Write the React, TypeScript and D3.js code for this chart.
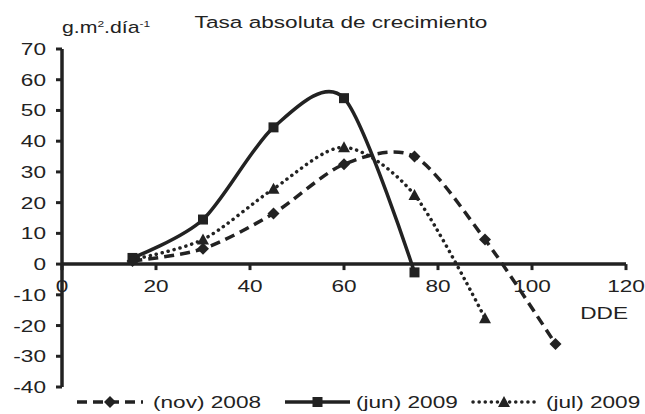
import React from 'react';
import * as d3 from 'd3';

// DDE (días desde emergencia)
const daysNov = [15, 30, 45, 60, 75, 90, 105];
const valuesNov = [1, 5, 16.5, 32.5, 35, 8, -26];
const daysJun = [15, 30, 45, 60, 75];
const valuesJun = [2, 14.5, 44.5, 54, -2.7];
const daysJul = [15, 30, 45, 60, 75, 90];
const valuesJul = [1.5, 8, 24.5, 38, 22.5, -17.6];

const xTicks = [0, 20, 40, 60, 80, 100, 120];
const yTicks = [-40, -30, -20, -10, 0, 10, 20, 30, 40, 50, 60, 70];
const seriesNames = ['(nov) 2008', '(jun) 2009', '(jul) 2009'];

const W = 645, H = 414;
const ink = '#222';
const font = 'Liberation Sans, Arial, sans-serif';
const fs = 17;
const sx = 1.33; // the original text is a little wider than it is tall

// text stretched horizontally around its anchor
const T = ({ x, y, anchor = 'start', children, dy, size = fs }: any) => (
  <text transform={`translate(${x},${y}) scale(${sx},1)`} textAnchor={anchor} dy={dy}
    fontSize={size} fill={ink}>{children}</text>
);

const App = () => {
  const x = d3.scaleLinear().domain([0, 120]).range([62, 626]);
  const y = d3.scaleLinear().domain([-40, 70]).range([387, 49]);

  const line = d3.line<[number, number]>()
    .x(d => x(d[0]))
    .y(d => y(d[1]))
    .curve(d3.curveCardinal.tension(0.15));

  const zip = (a: number[], b: number[]) => a.map((d, i) => [d, b[i]] as [number, number]);

  const series = [
    { name: seriesNames[0], pts: zip(daysNov, valuesNov), dash: '10,6', cap: 'butt', mark: 'diamond' },
    { name: seriesNames[1], pts: zip(daysJun, valuesJun), dash: null, cap: 'butt', mark: 'square' },
    { name: seriesNames[2], pts: zip(daysJul, valuesJul), dash: '0.1,6', cap: 'round', mark: 'triangle' },
  ];

  const marker = (kind: string, cx: number, cy: number, key: any) => {
    if (kind === 'square') return <rect key={key} x={cx - 5} y={cy - 5} width={10} height={10} fill={ink} />;
    if (kind === 'diamond') return <path key={key} d={`M${cx},${cy - 6}L${cx + 6},${cy}L${cx},${cy + 6}L${cx - 6},${cy}Z`} fill={ink} />;
    return <path key={key} d={`M${cx},${cy - 6}L${cx + 6},${cy + 5}L${cx - 6},${cy + 5}Z`} fill={ink} />;
  };

  const legendLine = [[77, 143], [285, 350], [473, 535]];
  const legendText = [153, 356, 546];

  return (
    <svg width={W} height={H} style={{ position: 'absolute', left: 0, top: 0 }} fontFamily={font}>
      <rect width={W} height={H} fill="#fff" />
      <T x={341} y={28} anchor="middle">Tasa absoluta de crecimiento</T>
      <T x={62} y={33} size={16}>
        g.m<tspan fontSize={9} dy={-6}>2</tspan><tspan dy={6}>.día</tspan><tspan fontSize={9} dy={-6}>-1</tspan>
      </T>

      {/* y axis */}
      <line x1={x(0)} x2={x(0)} y1={y(70)} y2={y(-40)} stroke={ink} strokeWidth={3.5} />
      {yTicks.map(t => (
        <g key={t}>
          <line x1={x(0) - 6} x2={x(0)} y1={y(t)} y2={y(t)} stroke={ink} strokeWidth={3} />
          <T x={46} y={y(t)} dy="0.35em" anchor="end">{t}</T>
        </g>
      ))}

      {/* x axis at y = 0 */}
      <line x1={x(0)} x2={x(120)} y1={y(0)} y2={y(0)} stroke={ink} strokeWidth={3.5} />
      {xTicks.map(t => (
        <g key={t}>
          <line x1={x(t)} x2={x(t)} y1={y(0)} y2={y(0) + 6} stroke={ink} strokeWidth={3} />
          <T x={x(t)} y={y(0) + 28} anchor="middle">{t}</T>
        </g>
      ))}
      <T x={628} y={319} anchor="end">DDE</T>

      {series.map(s => (
        <g key={s.name}>
          <path d={line(s.pts) || ''} fill="none" stroke={ink} strokeWidth={3.5}
            strokeDasharray={s.dash || undefined} strokeLinecap={s.cap as any} />
          {s.pts.map((p, j) => marker(s.mark, x(p[0]), y(p[1]), j))}
        </g>
      ))}

      {/* legend */}
      {series.map((s, i) => (
        <g key={'lg' + i}>
          <line x1={legendLine[i][0]} x2={legendLine[i][1]} y1={402} y2={402} stroke={ink} strokeWidth={3.5}
            strokeDasharray={s.dash || undefined} strokeLinecap={s.cap as any} />
          {marker(s.mark, (legendLine[i][0] + legendLine[i][1]) / 2, 402, 'm')}
          <T x={legendText[i]} y={408}>{s.name}</T>
        </g>
      ))}
    </svg>
  );
};

export default App;
